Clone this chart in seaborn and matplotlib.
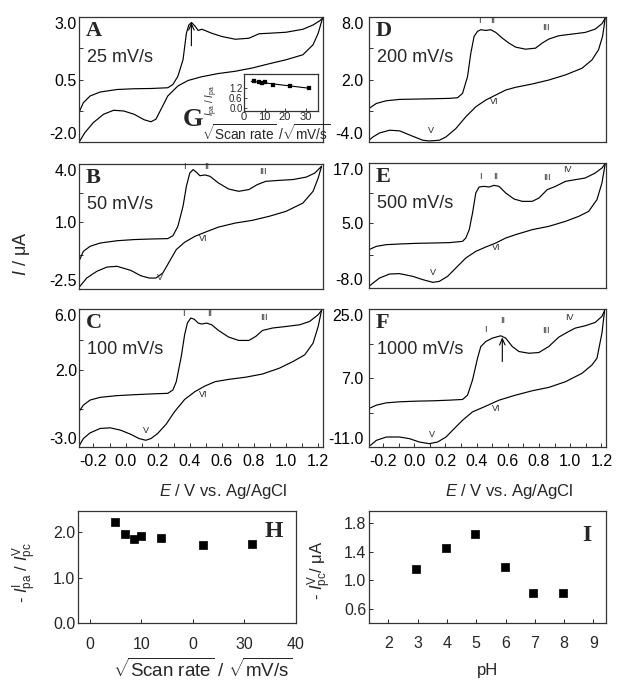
import numpy as np
import pandas as pd
import matplotlib
matplotlib.use("Agg")
import matplotlib.pyplot as plt
import seaborn as sns
from matplotlib.ticker import FixedLocator

# ---------------- data ----------------
A_fwd_E = [-0.29, -0.263, -0.221, -0.158, -0.053, 0.053, 0.158, 0.263, 0.295, 0.326, 0.358, 0.379, 0.394, 0.411,
           0.432, 0.453, 0.474, 0.495, 0.537, 0.600, 0.684, 0.768, 0.832, 0.895, 1.0, 1.105, 1.168, 1.21, 1.227]
A_fwd_I = [-0.82, -0.43, -0.16, 0.0, 0.10, 0.13, 0.14, 0.17, 0.30, 0.63, 1.29, 2.35, 2.68, 2.78,
           2.64, 2.46, 2.51, 2.46, 2.35, 2.22, 2.11, 2.15, 2.33, 2.35, 2.39, 2.51, 2.68, 2.85, 2.95]
A_rev_E = [1.227, 1.2, 1.168, 1.105, 1.0, 0.895, 0.789, 0.684, 0.579, 0.474, 0.389, 0.326, 0.263, 0.221, 0.189,
           0.158, 0.116, 0.053, -0.011, -0.074, -0.137, -0.2, -0.253, -0.284]
A_rev_I = [2.95, 2.35, 1.89, 1.49, 1.29, 1.13, 0.96, 0.83, 0.74, 0.61, 0.46, 0.24, -0.16, -0.69, -1.09,
           -1.19, -1.11, -0.89, -0.76, -0.73, -0.89, -1.22, -1.62, -1.95]

B_fwd_E = [-0.29, -0.263, -0.221, -0.158, -0.053, 0.053, 0.158, 0.263, 0.295, 0.326, 0.358, 0.379, 0.4, 0.421,
           0.442, 0.463, 0.495, 0.526, 0.579, 0.642, 0.705, 0.768, 0.821, 0.874, 0.958, 1.042, 1.126, 1.179, 1.221]
B_fwd_I = [-1.06, -0.54, -0.28, -0.11, 0.01, 0.07, 0.10, 0.12, 0.27, 0.76, 1.80, 2.84, 3.53, 3.71,
           3.57, 3.39, 3.43, 3.36, 3.01, 2.70, 2.58, 2.67, 2.93, 3.10, 3.15, 3.19, 3.32, 3.53, 3.88]
B_rev_E = [1.221, 1.2, 1.168, 1.105, 1.0, 0.895, 0.789, 0.684, 0.579, 0.495, 0.432, 0.368, 0.316, 0.274, 0.232,
           0.189, 0.147, 0.095, 0.032, -0.053, -0.116, -0.179, -0.242, -0.284]
B_rev_I = [3.88, 3.27, 2.58, 1.97, 1.54, 1.28, 1.07, 0.93, 0.72, 0.45, 0.24, -0.07, -0.45, -1.06, -1.67,
           -1.93, -1.93, -1.81, -1.53, -1.32, -1.36, -1.58, -1.93, -2.36]

C_fwd_E = [-0.29, -0.263, -0.221, -0.158, -0.053, 0.053, 0.158, 0.263, 0.295, 0.316, 0.347, 0.368, 0.385, 0.406,
           0.427, 0.453, 0.474, 0.505, 0.537, 0.579, 0.642, 0.705, 0.768, 0.811, 0.853, 0.916, 1.0, 1.084,
           1.147, 1.2, 1.221]
C_fwd_I = [-0.70, -0.27, 0.06, 0.24, 0.35, 0.41, 0.46, 0.50, 0.72, 1.26, 2.90, 4.32, 5.08, 5.41,
           5.34, 5.08, 5.02, 5.08, 4.97, 4.60, 4.17, 3.95, 3.95, 4.21, 4.60, 4.76, 4.86, 4.97,
           5.19, 5.63, 5.91]
C_rev_E = [1.221, 1.2, 1.168, 1.116, 1.042, 0.958, 0.853, 0.747, 0.642, 0.558, 0.495, 0.432, 0.368, 0.305, 0.253,
           0.2, 0.158, 0.126, 0.084, 0.032, -0.032, -0.095, -0.158, -0.221, -0.263, -0.29]
C_rev_I = [5.91, 4.86, 3.77, 3.01, 2.57, 2.14, 1.76, 1.55, 1.41, 1.26, 0.98, 0.61, 0.10, -0.70, -1.51,
           -2.12, -2.45, -2.56, -2.45, -2.17, -1.90, -1.75, -1.79, -2.08, -2.45, -2.95]

D_fwd_E = [-0.29, -0.243, -0.179, -0.094, 0.012, 0.119, 0.225, 0.278, 0.31, 0.342, 0.363, 0.384, 0.406, 0.427,
           0.459, 0.491, 0.523, 0.565, 0.608, 0.65, 0.714, 0.778, 0.82, 0.863, 0.927, 1.012, 1.097, 1.161,
           1.204, 1.225]
D_fwd_I = [-0.78, -0.30, -0.04, 0.09, 0.12, 0.15, 0.19, 0.25, 0.67, 2.28, 4.53, 6.14, 6.62, 6.78,
           6.71, 6.78, 6.52, 5.97, 5.49, 5.11, 4.91, 5.01, 5.49, 5.88, 6.2, 6.36, 6.52, 6.84,
           7.36, 7.9]
D_rev_E = [1.225, 1.208, 1.182, 1.14, 1.076, 0.97, 0.863, 0.757, 0.65, 0.587, 0.523, 0.459, 0.395, 0.331, 0.267,
           0.204, 0.161, 0.097, 0.055, -0.009, -0.094, -0.158, -0.222, -0.264, -0.29]
D_rev_I = [7.9, 6.14, 4.85, 3.88, 3.08, 2.44, 1.95, 1.57, 1.25, 0.99, 0.51, 0.03, -0.62, -1.58, -2.71,
           -3.51, -3.83, -3.9, -3.83, -3.45, -2.93, -2.87, -3.13, -3.51, -3.83]

E_fwd_E = [-0.29, -0.243, -0.179, -0.094, 0.012, 0.119, 0.225, 0.31, 0.331, 0.353, 0.374, 0.395, 0.416, 0.448,
           0.48, 0.512, 0.544, 0.587, 0.64, 0.693, 0.757, 0.8, 0.853, 0.906, 0.97, 1.034, 1.097, 1.161,
           1.204, 1.225]
E_fwd_I = [-0.33, 0.33, 0.67, 0.8, 0.93, 1.0, 1.07, 1.33, 2.0, 3.67, 7.0, 11.0, 12.2, 12.33,
           12.2, 12.53, 12.33, 11.0, 9.8, 9.33, 9.33, 10.0, 11.67, 12.33, 13.33, 13.67, 14.0, 15.0,
           16.0, 16.87]
E_rev_E = [1.225, 1.204, 1.172, 1.119, 1.055, 0.97, 0.863, 0.757, 0.65, 0.587, 0.523, 0.459, 0.395, 0.331, 0.267,
           0.214, 0.161, 0.119, 0.055, -0.009, -0.094, -0.158, -0.222, -0.264, -0.29]
E_rev_I = [16.87, 13.0, 9.67, 7.33, 6.33, 5.33, 4.33, 3.67, 2.67, 2.0, 1.0, 0.2, -0.67, -2.0, -4.0,
           -5.67, -6.67, -6.87, -6.33, -5.67, -5.13, -5.2, -6.0, -7.0, -7.67]

F_fwd_E = [-0.29, -0.243, -0.179, -0.094, 0.012, 0.119, 0.225, 0.31, 0.342, 0.374, 0.406, 0.427, 0.459, 0.501,
           0.555, 0.587, 0.629, 0.672, 0.736, 0.799, 0.863, 0.927, 0.991, 1.033, 1.097, 1.161, 1.204, 1.221]
F_fwd_I = [-0.96, -0.09, 0.52, 0.79, 0.96, 1.05, 1.22, 1.40, 2.53, 6.47, 12.15, 15.21, 16.52, 17.40,
           18.01, 17.40, 15.21, 13.90, 13.46, 13.64, 15.21, 17.66, 19.14, 20.02, 20.63, 21.5, 23.08, 24.65]
F_rev_E = [1.221, 1.204, 1.172, 1.14, 1.076, 0.97, 0.863, 0.757, 0.65, 0.544, 0.459, 0.374, 0.31, 0.246, 0.204,
           0.15, 0.097, 0.033, -0.03, -0.094, -0.179, -0.243, -0.281]
F_rev_I = [24.65, 18.71, 12.15, 10.40, 8.22, 6.03, 4.55, 3.67, 2.53, 1.22, -0.35, -1.84, -4.02, -6.64, -8.39,
           -9.70, -10.14, -9.70, -8.83, -8.39, -8.39, -9.27, -10.58]

scan_rates = ["25 mV/s", "50 mV/s", "100 mV/s", "200 mV/s", "500 mV/s", "1000 mV/s"]
panel_letters = ["A", "B", "C", "D", "E", "F"]
y_limits = [(-2.0, 3.0), (-2.5, 4.0), (-3.0, 6.0), (-4.0, 8.0), (-8.0, 17.0), (-11.0, 25.0)]
y_mid_ticks = [0.5, 1.0, 2.0, 2.0, 5.0, 7.0]
x_tick_vals = [-0.2, 0.0, 0.2, 0.4, 0.6, 0.8, 1.0, 1.2]
x_tick_labels = ["-0.2", "0.0", "0.2", "0.4", "0.6", "0.8", "1.0", "1.2"]

# inset G
G_x = [5.0, 7.1, 8.7, 10.0, 14.1, 22.4, 31.6]
G_y = [1.62, 1.52, 1.45, 1.52, 1.34, 1.30, 1.20]

# panel H
H_x = [4.8, 6.9, 8.5, 10.0, 13.9, 22.0, 31.4]
H_y = [2.23, 1.97, 1.85, 1.92, 1.88, 1.71, 1.75]
H_xticks = [0, 10, 20, 30, 40]
H_xticklabels = ["0", "10", "0", "30", "40"]

# panel I
I_pH = [2.95, 3.98, 4.97, 5.97, 6.93, 7.95]
I_cur = [1.16, 1.45, 1.65, 1.19, 0.82, 0.82]

# ---------------- style ----------------
sns.set_style("white")
plt.rcParams["font.family"] = ["Liberation Sans", "DejaVu Sans"]
plt.rcParams["mathtext.fontset"] = "custom"
plt.rcParams["mathtext.rm"] = "Liberation Sans"
plt.rcParams["mathtext.it"] = "Liberation Sans:italic"
plt.rcParams["mathtext.bf"] = "Liberation Sans:bold"

W, H = 617, 681
fig = plt.figure(figsize=(W / 100, H / 100), dpi=100)
fig.patch.set_facecolor("white")


def px_axes(left, top, right, bottom):
    return fig.add_axes([left / W, 1 - bottom / H, (right - left) / W, (bottom - top) / H])


def style_spines(ax):
    for s in ax.spines.values():
        s.set_color("#333333")
        s.set_linewidth(0.9)
        s.set_visible(True)


boxes = [
    (79, 17, 323, 142), (79, 164, 323, 289), (79, 309, 323, 447),
    (369, 17, 606, 142), (369, 163, 606, 288), (369, 309, 606, 447),
]
curves = [
    (A_fwd_E, A_fwd_I, A_rev_E, A_rev_I), (B_fwd_E, B_fwd_I, B_rev_E, B_rev_I),
    (C_fwd_E, C_fwd_I, C_rev_E, C_rev_I), (D_fwd_E, D_fwd_I, D_rev_E, D_rev_I),
    (E_fwd_E, E_fwd_I, E_rev_E, E_rev_I), (F_fwd_E, F_fwd_I, F_rev_E, F_rev_I),
]
peak_labels = [
    [],
    [("I", 0.368, 3.62), ("II", 0.505, 3.62), ("III", 0.853, 3.35), ("VI", 0.484, -0.1), ("V", 0.217, -2.15)],
    [("I", 0.362, 5.4), ("II", 0.526, 5.4), ("III", 0.863, 5.15), ("VI", 0.484, 0.15), ("V", 0.126, -2.2)],
    [("I", 0.416, 7.25), ("II", 0.501, 7.25), ("III", 0.842, 6.6), ("VI", 0.512, -0.55), ("V", 0.108, -3.3)],
    [("I", 0.427, 13.4), ("II", 0.523, 13.4), ("III", 0.853, 13.1), ("IV", 0.98, 14.8), ("VI", 0.523, -0.9),
     ("V", 0.119, -5.9)],
    [("I", 0.455, 18.4), ("II", 0.565, 20.9), ("III", 0.842, 18.1), ("IV", 0.995, 21.5), ("VI", 0.523, -2.1),
     ("V", 0.114, -8.8)],
]

axes = []
for i in range(6):
    ax = px_axes(*boxes[i])
    axes.append(ax)
    fE, fI, rE, rI = curves[i]
    sns.lineplot(x=fE, y=fI, sort=False, estimator=None, color="black", lw=0.85, ax=ax)
    sns.lineplot(x=rE, y=rI, sort=False, estimator=None, color="black", lw=0.85, ax=ax)
    lo, hi = y_limits[i]
    mid = y_mid_ticks[i]
    ax.set_xlim(-0.29, 1.23)
    ax.set_ylim(lo, hi)
    ax.set_xlabel("")
    ax.set_ylabel("")
    style_spines(ax)
    ax.set_yticks([lo, mid, hi], labels=[f"{lo:.1f}", f"{mid:.1f}", f"{hi:.1f}"])
    ylabs = ax.get_yticklabels()
    ylabs[0].set_va("bottom")
    ylabs[-1].set_va("top")
    ax.yaxis.set_minor_locator(FixedLocator([(lo + mid) / 2, (mid + hi) / 2]))
    pad = 1.5 if i < 3 else 4
    ax.tick_params(axis="y", which="both", direction="in", length=3, width=0.7, labelsize=11.5, pad=pad,
                   left=True, colors="#333333", labelcolor="black")
    if i in (2, 5):
        ax.set_xticks(x_tick_vals, labels=x_tick_labels)
        ax.xaxis.set_minor_locator(FixedLocator([-0.1, 0.1, 0.3, 0.5, 0.7, 0.9, 1.1]))
        ax.tick_params(axis="x", which="both", direction="in", length=3, width=0.7, labelsize=11.5, pad=5,
                       bottom=True, colors="#333333", labelcolor="black")
        ax.set_xlabel(r"$E$ / V vs. Ag/AgCl", fontsize=12)
        ax.xaxis.set_label_coords(0.59, -0.255)
        ax.xaxis.label.set_va("top")
    else:
        ax.set_xticks([])
    ax.annotate(panel_letters[i], xy=(0, 1), xycoords="axes fraction", xytext=(5, -3),
                textcoords="offset points", ha="left", va="top", fontsize=16, fontweight="bold",
                family="Liberation Serif")
    ax.annotate(scan_rates[i], xy=(0, 1), xycoords="axes fraction", xytext=(6, -23),
                textcoords="offset points", ha="left", va="top", fontsize=13)
    for txt, ex, iy in peak_labels[i]:
        ax.text(ex, iy, txt, fontsize=6.5, ha="center", va="bottom", family="Liberation Sans")

# arrows
axes[0].annotate("", xy=(0.41, 2.78), xytext=(0.41, 1.85),
                 arrowprops=dict(arrowstyle="->,head_length=0.45,head_width=0.2", lw=0.8, color="black",
                                 shrinkA=0, shrinkB=0))
axes[5].annotate("", xy=(0.565, 17.6), xytext=(0.565, 11.3),
                 arrowprops=dict(arrowstyle="->,head_length=0.45,head_width=0.2", lw=0.8, color="black",
                                 shrinkA=0, shrinkB=0))

# y-axis label for CV panels
fig.text(22 / W, 1 - 254 / H, r"$I$ / μA", rotation=90, ha="center", va="center", fontsize=13)

# ---------------- inset G ----------------
axG = px_axes(244, 74, 318, 111)
axG.set_facecolor("white")
sns.scatterplot(x=G_x, y=G_y, marker="s", s=5, color="black", edgecolor="black", ax=axG, zorder=3)
coef = np.polyfit(G_x, G_y, 1)
fx = np.array([min(G_x) - 1.5, max(G_x)])
sns.lineplot(x=fx, y=np.polyval(coef, fx), color="black", lw=0.8, ax=axG)
axG.set_xlim(0, 36)
axG.set_ylim(-0.16, 2.0)
axG.set_xticks([0, 10, 20, 30])
axG.set_yticks([0.0, 0.6, 1.2], labels=["0.0", "0.6", "1.2"])
axG.tick_params(direction="in", length=2, width=0.6, labelsize=7, pad=1, left=True, bottom=True)
axG.tick_params(axis="x", labelsize=8)
style_spines(axG)
axG.set_xlabel("")
axG.set_ylabel("")
fig.text(212 / W, 1 - 101 / H, r"$I_{\mathrm{pa}}$ / $I_{\mathrm{pa}}$", rotation=90, ha="center",
         va="center", fontsize=7)
fig.text(266 / W, 1 - 133 / H, r"$\sqrt{\mathrm{Scan\ rate}}$ /$\sqrt{\mathrm{mV/s}}$", ha="center",
         va="center", fontsize=9.8)
fig.text(193 / W, 1 - 119 / H, "G", ha="center", va="center", fontsize=19, fontweight="bold",
         family="Liberation Serif")

# ---------------- panel H ----------------
axH = px_axes(78, 511, 296, 623)
sns.scatterplot(x=H_x, y=H_y, marker="s", s=40, color="black", edgecolor="black", ax=axH)
axH.set_xlim(-2.3, 40)
axH.set_ylim(0.0, 2.47)
axH.set_xticks(H_xticks, labels=H_xticklabels)
axH.set_yticks([0.0, 1.0, 2.0], labels=["0.0", "1.0", "2.0"])
axH.tick_params(direction="in", length=3, width=0.7, labelsize=11.5, pad=10, left=True, bottom=True)
axH.tick_params(axis="y", pad=2)
style_spines(axH)
axH.set_xlabel(r"$\sqrt{\mathrm{Scan\ rate}}$ / $\sqrt{\mathrm{mV/s}}$", fontsize=13.5)
axH.xaxis.set_label_coords(0.57, -0.31)
axH.xaxis.label.set_va("top")
axH.set_ylabel(r"- $I_{\mathrm{pa}}^{\mathrm{I}}$ / $I_{\mathrm{pc}}^{\mathrm{V}}$", fontsize=12, va="center")
axH.yaxis.set_label_coords(-0.243, 0.45)
axH.text(0.94, 0.82, "H", transform=axH.transAxes, ha="right", va="center", fontsize=17,
         fontweight="bold", family="Liberation Serif")

# ---------------- panel I ----------------
axI = px_axes(369, 511, 606, 623)
sns.scatterplot(x=I_pH, y=I_cur, marker="s", s=40, color="black", edgecolor="black", ax=axI)
axI.set_xlim(1.34, 9.43)
axI.set_ylim(0.40, 1.97)
axI.set_xticks([2, 3, 4, 5, 6, 7, 8, 9])
axI.set_yticks([0.6, 1.0, 1.4, 1.8], labels=["0.6", "1.0", "1.4", "1.8"])
axI.tick_params(direction="in", length=3, width=0.7, labelsize=11.5, pad=9, left=True, bottom=True)
axI.tick_params(axis="y", pad=2)
style_spines(axI)
axI.set_xlabel("pH", fontsize=12)
axI.xaxis.set_label_coords(0.50, -0.36)
axI.xaxis.label.set_va("top")
axI.set_ylabel(r"- $I_{\mathrm{pc}}^{\mathrm{V}}$/ μA", fontsize=12, va="center")
axI.yaxis.set_label_coords(-0.207, 0.47)
axI.text(0.94, 0.78, "I", transform=axI.transAxes, ha="right", va="center", fontsize=17,
         fontweight="bold", family="Liberation Serif")

fig.savefig("out.png", dpi=100, facecolor="white")
